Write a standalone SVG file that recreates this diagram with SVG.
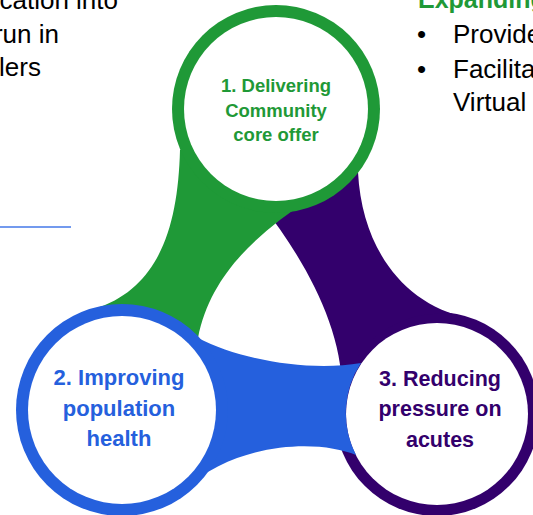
<svg xmlns="http://www.w3.org/2000/svg" width="533" height="515" viewBox="0 0 533 515">
<style>
  text { font-family: "Liberation Sans", Arial, sans-serif; }
  .body { font-size: 26px; fill: #000; }
  .head { font-size: 25px; font-weight: bold; fill: #1f9937; }
  .lbl { font-weight: bold; text-anchor: middle; }
  .g { fill: #1f9937; }
  .b { fill: #2560dd; }
  .p { fill: #33006c; }
  .w { fill: #ffffff; }
</style>
<rect width="533" height="515" fill="#ffffff"/>

<!-- surrounding slide text -->
<g id="left-text">
  <text class="body" x="118" y="9" text-anchor="end">cation into</text>
  <text class="body" x="59" y="43" text-anchor="end">run in</text>
  <text class="body" x="41" y="76" text-anchor="end">lers</text>
  <line x1="0" y1="227" x2="71" y2="227" stroke="#4479e8" stroke-width="1.5"/>
</g>
<g id="right-text">
  <text class="head" x="418" y="8">Expanding</text>
  <text class="body" x="417" y="43">•</text>
  <text class="body" x="453" y="43">Provide</text>
  <text class="body" x="417" y="78">•</text>
  <text class="body" x="453" y="78">Facilita</text>
  <text class="body" x="453" y="111">Virtual</text>
</g>

<!-- node 3: purple -->
<g id="node3">
  <circle class="p" cx="437" cy="414" r="102"/>
  <circle class="w" cx="437" cy="414" r="91"/>
  <text class="lbl p" font-size="21.5" x="440" y="386">3. Reducing</text>
  <text class="lbl p" font-size="21.5" x="440" y="416">pressure on</text>
  <text class="lbl p" font-size="21.5" x="440" y="446.5">acutes</text>
</g>

<!-- connectors (bands) -->
<g id="connectors">
  <path id="band-purple" class="p" d="M262,205 C305,260 344,330 342,395 A99,99 0 0 1 468,318 C405,305 362,250 358,172 Z"/>
  <path id="band-green" class="g" d="M276,109 L180,150 C178,225 160,285 100,307 L122,410 L198,338 C215,250 300,205 362,167 Z"/>
  <path id="band-blue" class="b" d="M122,410 L198,338 C240,360 310,372 361,363 A91,91 0 0 0 356,455 C320,440 240,440 183,490 Z"/>
</g>

<!-- node 1: green -->
<g id="node1">
  <circle class="g" cx="276" cy="109" r="104"/>
  <circle class="w" cx="276" cy="109" r="92"/>
  <text class="lbl g" font-size="18.5" x="276" y="92">1. Delivering</text>
  <text class="lbl g" font-size="18.5" x="276" y="116.5">Community</text>
  <text class="lbl g" font-size="18.5" x="276" y="141">core offer</text>
</g>

<!-- node 2: blue -->
<g id="node2">
  <circle class="b" cx="122" cy="410" r="106"/>
  <circle class="w" cx="122" cy="410" r="94"/>
  <text class="lbl b" font-size="22" x="119" y="385">2. Improving</text>
  <text class="lbl b" font-size="22" x="119" y="415.5">population</text>
  <text class="lbl b" font-size="22" x="119" y="446">health</text>
</g>
</svg>
